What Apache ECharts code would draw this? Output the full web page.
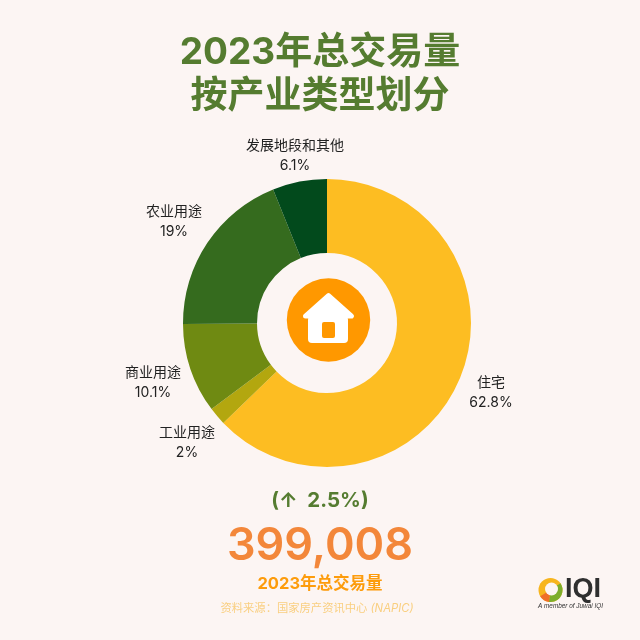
<!DOCTYPE html>
<html><head><meta charset="utf-8">
<style>html,body{margin:0;padding:0;background:#fcf5f3}#c{width:640px;height:640px}</style>
<script src="https://cdn.jsdelivr.net/npm/echarts@6/dist/echarts.min.js"></script>
</head><body><div id="c"></div>
<script>
const categories = ['住宅','工业用途','商业用途','农业用途','发展地段和其他'];
const shares = [62.8,2,10.1,19,6.1];
const shareLabels = ['62.8%','2%','10.1%','19%','6.1%'];
const colors = ['#fdbd22','#b3a70f','#6f8a12','#356b1e','#024a1c'];
const titleLines = ['2023年总交易量','按产业类型划分'];
const growth = '(↑  2.5%)';
const total = '399,008';
const totalCaption = '2023年总交易量';
const sourceMain = '资料来源：国家房产资讯中心 ';
const sourceTag = '(NAPIC)';
const F = 'Inter,"Noto Sans CJK SC",sans-serif';
const chart = echarts.init(document.getElementById('c'),null,{renderer:'canvas'});
const centerText = (text,y,size,color,weight,extra)=>({type:'text',x:320,y,style:Object.assign({text,fill:color,font:`${weight} ${size}px ${F}`,textAlign:'center',textVerticalAlign:'middle'},extra||{})});
const labelAnchors = [[491,393],[187,443],[153,383],[174,222],[295,156]];
chart.setOption({
  backgroundColor:'#fcf5f3',
  animation:false,
  series:[{
    type:'pie',center:[327,323],radius:[70,144],startAngle:90,clockwise:true,
    data:categories.map((name,i)=>({name,value:shares[i],itemStyle:{color:colors[i]}})),
    label:{show:true,position:'outside',formatter:p=>p.name+'\n'+shareLabels[p.dataIndex],
      fontFamily:F,fontSize:14,lineHeight:20,color:'#222'},
    labelLine:{show:false},
    emphasis:{disabled:true},
    labelLayout:p=>{const o=labelAnchors[p.dataIndex];return {x:o[0],y:o[1],align:'center',verticalAlign:'middle'};}
  }],
  graphic:[
    centerText(titleLines[0],53,37,'#557c30','bold'),
    centerText(titleLines[1],97,37,'#557c30','bold'),
    {type:'circle',shape:{cx:328.5,cy:320,r:41.7},style:{fill:'#ff9800'}},
    {type:'polygon',shape:{points:[[328.5,295.5],[351.5,316],[305.5,316]]},style:{fill:'#fff',stroke:'#fff',lineWidth:5,lineJoin:'round'}},
    {type:'rect',shape:{x:308,y:316,width:40,height:27,r:4},style:{fill:'#fff'}},
    {type:'rect',shape:{x:322,y:322,width:13,height:16,r:2},style:{fill:'#ff9800'}},
    centerText(growth,501,20.5,'#557c30','bold'),
    centerText(total,546,45,'#f3873a','600'),
    centerText(totalCaption,584,16.5,'#fd9c0c','bold'),
    {type:'text',x:317,y:609,style:{text:'{a|'+sourceMain+'}{b|'+sourceTag+'}',textAlign:'center',textVerticalAlign:'middle',
      rich:{a:{font:`normal 11.3px ${F}`,fill:'#f9cf80',color:'#f9cf80'},b:{font:`italic 11.3px ${F}`,fill:'#f9cf80',color:'#f9cf80'}}}},
    {type:'circle',shape:{cx:550.5,cy:590,r:12},style:{fill:'#f7b51e'}},
    {type:'sector',shape:{cx:550.5,cy:590,r:12,r0:0,startAngle:-0.6,endAngle:1.7},style:{fill:'#7dae2b'}},
    {type:'sector',shape:{cx:550.5,cy:590,r:12,r0:0,startAngle:1.7,endAngle:2.6},style:{fill:'#ef6f28'}},
    {type:'circle',shape:{cx:551.5,cy:589,r:6.5},style:{fill:'#fcf5f3'}},
    {type:'text',x:565,y:590,style:{text:'IQI',fill:'#2f2f2f',font:'bold 27px "Liberation Sans",sans-serif',textVerticalAlign:'middle'}},
    {type:'text',x:538,y:606,style:{text:'A member of Juwai IQI',fill:'#333',font:'italic 6.4px "Liberation Sans",sans-serif',textVerticalAlign:'middle'}}
  ]
});
</script></body></html>
